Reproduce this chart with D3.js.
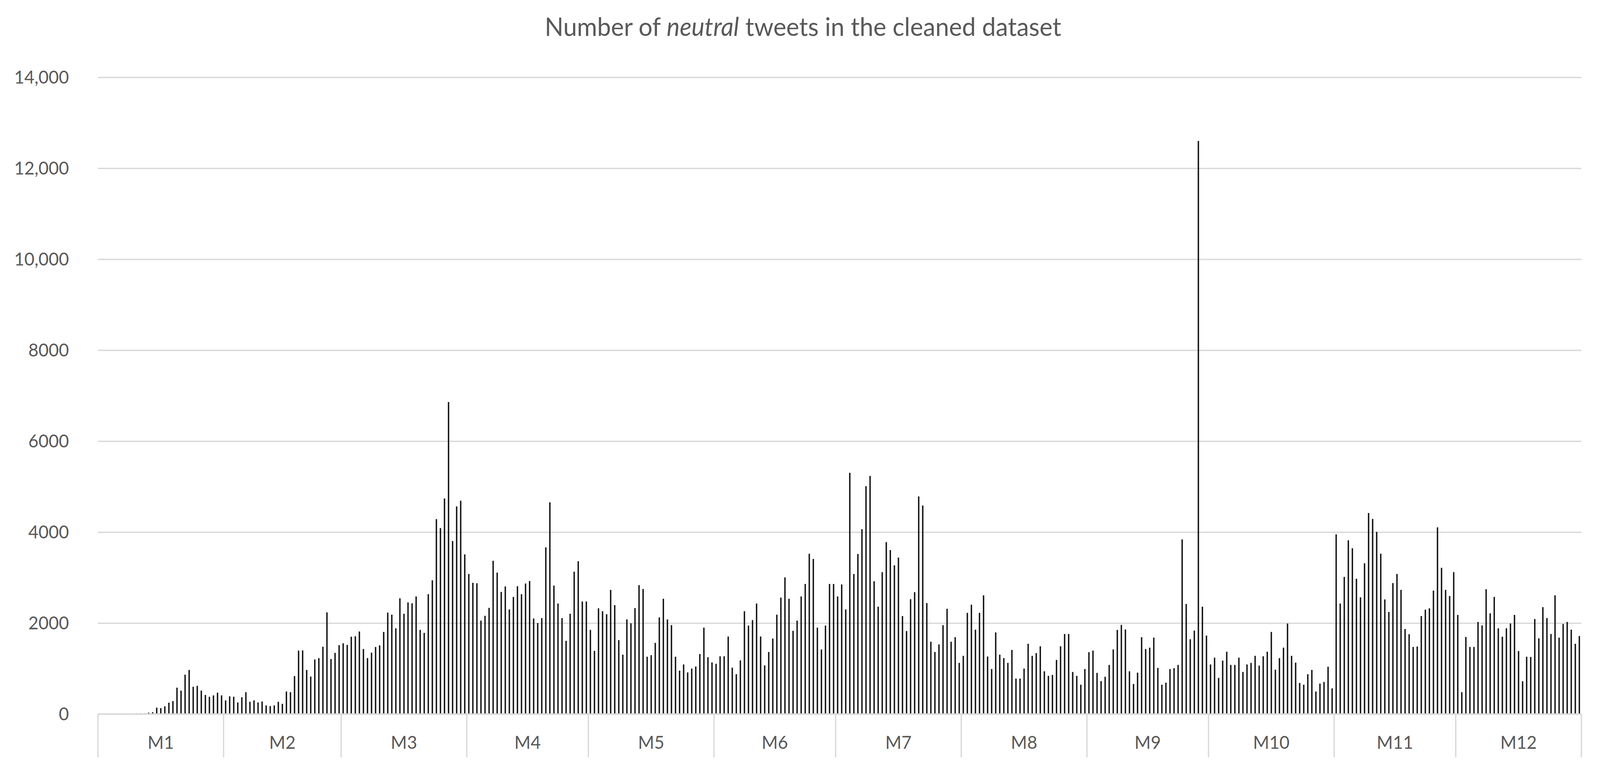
<!DOCTYPE html>
<html><head><meta charset="utf-8">
<script src="https://cdn.jsdelivr.net/npm/d3@7"></script>
<style>html,body{margin:0;padding:0;background:#fff;overflow:hidden}svg{display:block;width:100vw;height:100vh}</style>
</head><body>
<svg id="c" viewBox="0 0 4296 1980" preserveAspectRatio="none"></svg>
<script>
const months = ["M1","M2","M3","M4","M5","M6","M7","M8","M9","M10","M11","M12"];
const m1 = [0,0,0,0,0,0,0,0,10,15,15,15,30,40,140,130,170,250,285,580,515,865,970,600,620,515,420,380,410,470,410];
const m2 = [300,390,380,255,370,480,270,300,255,275,190,175,190,270,225,495,480,835,1395,1400,970,825,1200,1230,1480,2235,1210,1345,1515];
const m3 = [1555,1520,1700,1710,1815,1430,1230,1350,1475,1510,1805,2230,2185,1885,2545,2205,2455,2435,2585,1850,1785,2635,2940,4285,4090,4740,6860,3805,4565,4690,3510];
const m4 = [3080,2885,2875,2055,2160,2335,3370,3110,2685,2805,2300,2575,2810,2635,2870,2925,2100,2000,2110,3665,4655,2825,2430,2110,1610,2205,3130,3360,2475,2475];
const m5 = [1850,1390,2325,2260,2195,2730,2395,1625,1305,2080,1995,2330,2835,2750,1260,1295,1565,2125,2535,2080,1955,1260,955,1090,915,1000,1045,1320,1900,1250,1135];
const m6 = [1105,1270,1270,1705,1020,875,1180,2260,1945,2065,2430,1705,1070,1365,1660,2185,2560,3005,2535,1830,2055,2585,2860,3525,3410,1900,1420,1945,2860,2860];
const m7 = [2585,2850,2300,5305,3080,3520,4065,5010,5235,2920,2360,3120,3780,3605,3270,3440,2155,1825,2525,2680,4785,4585,2440,1590,1365,1530,1955,2315,1590,1690,1125];
const m8 = [1280,2225,2405,1855,2225,2610,1265,990,1795,1305,1230,1125,1410,780,780,1000,1545,1280,1340,1490,940,840,860,1190,1490,1760,1760,925,840,645,990];
const m9 = [1360,1395,905,725,820,1080,1420,1850,1960,1860,940,660,910,1690,1430,1460,1680,1015,645,690,990,1010,1080,3840,2420,1645,1835,12600,2360,1725];
const m10 = [1090,1240,795,1175,1370,1080,1080,1240,925,1090,1125,1280,1065,1270,1370,1805,975,1230,1460,1990,1280,1130,685,645,875,970,495,670,705,1040,565];
const m11 = [3950,2430,3015,3820,3645,2975,2565,3315,4420,4290,4005,3525,2520,2245,2880,3080,2730,1870,1755,1475,1485,2155,2295,2325,2715,4105,3215,2730,2595,3120];
const m12 = [2180,480,1695,1475,1475,2025,1950,2745,2215,2575,1885,1700,1885,1990,2180,1385,720,1260,1255,2090,1665,2350,2110,1760,2610,1680,1980,2025,1855,1545,1715];
const yTicks = [0,2000,4000,6000,8000,10000,12000,14000];
const yTickLabels = ["0","2000","4000","6000","8000","10,000","12,000","14,000"];

const monthData = [m1,m2,m3,m4,m5,m6,m7,m8,m9,m10,m11,m12];
const days = [];
monthData.forEach((arr,mi)=>arr.forEach((v,di)=>days.push({m:mi,d:di,v:v,i:days.length})));

const svg = d3.select("#c");
const L=263, R=4246, T=198, B=1829;
const x = d3.scaleBand().domain(days.map(d=>d.i)).range([L,R]).paddingInner(0.66).paddingOuter(0.33);
const y = d3.scaleLinear().domain([0,14000]).range([B,T]);
const font = "Lato, 'Open Sans', sans-serif";

svg.append("text").attr("x",2156).attr("y",92).attr("text-anchor","middle")
  .attr("font-family",font).attr("font-size",66).attr("fill","#595959")
  .html('Number of <tspan font-style="italic">neutral</tspan> tweets in the cleaned dataset');

const yAxis = d3.axisLeft(y).tickValues(yTicks).tickFormat((d,i)=>yTickLabels[i]).tickSize(-(R-L)).tickPadding(78);
const gy = svg.append("g").attr("transform",`translate(${L},0)`).call(yAxis);
gy.select(".domain").remove();
gy.selectAll("line").attr("stroke","#d9d9d9").attr("stroke-width",3.5);
gy.selectAll("text").attr("font-family",font).attr("font-size",47).attr("fill","#595959");

svg.append("g").selectAll("rect").data(days).join("rect")
  .attr("x",d=>x(d.i)).attr("width",x.bandwidth())
  .attr("y",d=>y(d.v)).attr("height",d=>B-y(d.v)).attr("fill","#111");

const starts=[]; let acc=0; monthData.forEach(a=>{starts.push(acc); acc+=a.length;});
const bx = i => L + i*(R-L)/days.length;
const ga = svg.append("g");
ga.append("line").attr("x1",L).attr("x2",R).attr("y1",B).attr("y2",B).attr("stroke","#d9d9d9").attr("stroke-width",3.5);
starts.concat([days.length]).forEach(s=>{
  ga.append("line").attr("x1",bx(s)).attr("x2",bx(s)).attr("y1",B).attr("y2",1940).attr("stroke","#d9d9d9").attr("stroke-width",3.5);
});
months.forEach((m,i)=>{
  const c=(bx(starts[i])+bx(starts[i]+monthData[i].length))/2;
  ga.append("text").attr("x",c).attr("y",1918).attr("text-anchor","middle")
    .attr("font-family",font).attr("font-size",47).attr("fill","#595959").text(m);
});
</script>
</body></html>
